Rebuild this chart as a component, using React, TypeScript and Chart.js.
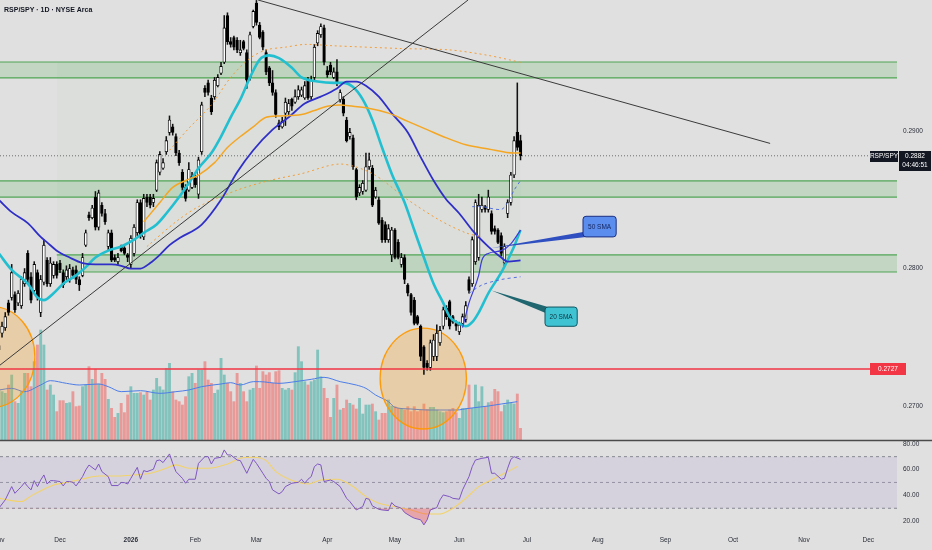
import React, { useEffect, useRef } from "react";
import { Chart, registerables } from "chart.js";

Chart.register(...registerables);

// ---------------- data ----------------
const symbolTitle = "RSP/SPY · 1D · NYSE Arca";
const symbolShort = "RSP/SPY";
const countdown = "04:46:51";
const monthLabels = ["Nov", "Dec", "2026", "Feb", "Mar", "Apr", "May", "Jun", "Jul", "Aug", "Sep", "Oct", "Nov", "Dec"];
const monthStartIdx = [0, 19, 41, 61, 80, 102, 123, 143, 164, 186, 207, 228, 250, 270];
const priceTicks = [0.27, 0.28, 0.29];
const rsiTicks = [20, 40, 60, 80];
const viewFrom = 0.37;
const viewTo = 278.9;
const priceMin = 0.26753;
const priceMax = 0.29953;
const rsiMin = 14.7;
const rsiMax = 82.9;
const volMin = -264;
const volMax = 1320;

const openP = [
  0.2741, 0.2753, 0.2757, 0.2775, 0.2779, 0.2781, 0.2775, 0.2773, 0.2789, 0.2811,
  0.2794, 0.2784, 0.2797, 0.2768, 0.2790, 0.2806, 0.2789, 0.2795, 0.2803, 0.2804,
  0.2797, 0.2794, 0.2792, 0.2799, 0.2799, 0.2792, 0.2795, 0.2817, 0.2839, 0.2837,
  0.2852, 0.2830, 0.2846, 0.2840, 0.2816, 0.2826, 0.2808, 0.2805, 0.2816, 0.2815,
  0.2810, 0.2803, 0.2811, 0.2826, 0.2848, 0.2823, 0.2852, 0.2852, 0.2848, 0.2857,
  0.2870, 0.2873, 0.2885, 0.2899, 0.2903, 0.2896, 0.2884, 0.2870, 0.2859, 0.2857,
  0.2859, 0.2866, 0.2854, 0.2885, 0.2931, 0.2935, 0.2924, 0.2925, 0.2933, 0.2942,
  0.2950, 0.2984, 0.2965, 0.2968, 0.2966, 0.2957, 0.2965, 0.2957, 0.2939, 0.2976,
  0.2993, 0.2977, 0.2972, 0.2957, 0.2946, 0.2935, 0.2928, 0.2906, 0.2903, 0.2913,
  0.2914, 0.2923, 0.2921, 0.2925, 0.2926,
  0.2924, 0.2937, 0.2925, 0.2939, 0.2964, 0.2970,
  0.2975, 0.2944, 0.2948, 0.2939, 0.2943, 0.2923, 0.2923, 0.2908, 0.2896, 0.2895,
  0.2872, 0.2855, 0.2856, 0.2857, 0.2874, 0.2873, 0.2852, 0.2850, 0.2835, 0.2832,
  0.2821, 0.2810, 0.2828, 0.2819, 0.2803, 0.2808, 0.2788, 0.2781, 0.2777, 0.2765,
  0.2758, 0.2743, 0.2731, 0.2728, 0.2736, 0.2736, 0.2746, 0.2758, 0.2771, 0.2776,
  0.2765, 0.2760, 0.2754, 0.2760, 0.2763, 0.2792, 0.2789, 0.2805, 0.2808, 0.2843,
  0.2845, 0.2843, 0.2840, 0.2829, 0.2828, 0.2824, 0.2804, 0.2840, 0.2848, 0.2868,
  0.2899, 0.2893,
];
const highP = [
  0.2748, 0.2761, 0.2768, 0.2777, 0.2803, 0.2783, 0.2784, 0.2794, 0.2800, 0.2813,
  0.2797, 0.2805, 0.2799, 0.2795, 0.2821, 0.2808, 0.2808, 0.2805, 0.2805, 0.2806,
  0.2799, 0.2802, 0.2803, 0.2801, 0.2802, 0.2794, 0.2811, 0.2828, 0.2841, 0.2846,
  0.2856, 0.2857, 0.2848, 0.2843, 0.2828, 0.2828, 0.2810, 0.2811, 0.2817, 0.2816,
  0.2811, 0.2824, 0.2832, 0.2850, 0.2850, 0.2854, 0.2854, 0.2854, 0.2854, 0.2879,
  0.2885, 0.2880, 0.2896, 0.2911, 0.2905, 0.2898, 0.2886, 0.2872, 0.2861, 0.2877,
  0.2870, 0.2868, 0.2881, 0.2921, 0.2933, 0.2937, 0.2926, 0.2939, 0.2941, 0.2950,
  0.2984, 0.2986, 0.2968, 0.2969, 0.2968, 0.2966, 0.2966, 0.2959, 0.2972, 0.2988,
  0.2995, 0.2979, 0.2973, 0.2959, 0.2947, 0.2944, 0.2930, 0.2908, 0.2910, 0.2924,
  0.2923, 0.2924, 0.2930, 0.2933, 0.2932,
  0.2936, 0.2939, 0.2940, 0.2963, 0.2973, 0.2978,
  0.2977, 0.2947, 0.2950, 0.2946, 0.2952, 0.2930, 0.2925, 0.2910, 0.2902, 0.2897,
  0.2873, 0.2861, 0.2864, 0.2884, 0.2884, 0.2875, 0.2859, 0.2852, 0.2837, 0.2834,
  0.2832, 0.2830, 0.2829, 0.2821, 0.2811, 0.2810, 0.2789, 0.2782, 0.2779, 0.2766,
  0.2759, 0.2744, 0.2733, 0.2748, 0.2752, 0.2759, 0.2758, 0.2772, 0.2773, 0.2777,
  0.2766, 0.2762, 0.2761, 0.2767, 0.2776, 0.2794, 0.2823, 0.2850, 0.2854, 0.2852,
  0.2846, 0.2857, 0.2842, 0.2831, 0.2829, 0.2826, 0.2818, 0.2850, 0.2870, 0.2896,
  0.2935, 0.2897,
];
const lowP = [
  0.2736, 0.2750, 0.2755, 0.2766, 0.2777, 0.2768, 0.2773, 0.2771, 0.2787, 0.2789,
  0.2775, 0.2782, 0.2777, 0.2765, 0.2788, 0.2787, 0.2787, 0.2793, 0.2793, 0.2797,
  0.2786, 0.2792, 0.2790, 0.2793, 0.2789, 0.2784, 0.2794, 0.2816, 0.2835, 0.2836,
  0.2828, 0.2828, 0.2838, 0.2832, 0.2813, 0.2805, 0.2805, 0.2803, 0.2812, 0.2810,
  0.2805, 0.2800, 0.2809, 0.2824, 0.2822, 0.2821, 0.2845, 0.2844, 0.2845, 0.2856,
  0.2868, 0.2872, 0.2883, 0.2897, 0.2897, 0.2882, 0.2875, 0.2857, 0.2849, 0.2856,
  0.2858, 0.2859, 0.2851, 0.2883, 0.2925, 0.2926, 0.2912, 0.2923, 0.2932, 0.2941,
  0.2949, 0.2963, 0.2961, 0.2959, 0.2957, 0.2955, 0.2959, 0.2931, 0.2937, 0.2975,
  0.2977, 0.2967, 0.2959, 0.2941, 0.2933, 0.2926, 0.2910, 0.2901, 0.2902, 0.2904,
  0.2912, 0.2915, 0.2920, 0.2923, 0.2925,
  0.2923, 0.2923, 0.2923, 0.2937, 0.2962, 0.2968,
  0.2948, 0.2939, 0.2941, 0.2938, 0.2933, 0.2921, 0.2911, 0.2892, 0.2894, 0.2872,
  0.2850, 0.2853, 0.2854, 0.2856, 0.2872, 0.2845, 0.2851, 0.2832, 0.2819, 0.2819,
  0.2819, 0.2805, 0.2807, 0.2807, 0.2801, 0.2789, 0.2780, 0.2766, 0.2759, 0.2759,
  0.2733, 0.2723, 0.2726, 0.2726, 0.2733, 0.2733, 0.2744, 0.2756, 0.2763, 0.2756,
  0.2760, 0.2755, 0.2752, 0.2759, 0.2761, 0.2782, 0.2787, 0.2803, 0.2806, 0.2841,
  0.2841, 0.2841, 0.2825, 0.2825, 0.2818, 0.2809, 0.2802, 0.2837, 0.2846, 0.2866,
  0.2886, 0.2879,
];
const closeP = [
  0.2744, 0.2758, 0.2765, 0.2768, 0.2797, 0.2770, 0.2782, 0.2792, 0.2797, 0.2792,
  0.2777, 0.2803, 0.2779, 0.2792, 0.2817, 0.2789, 0.2804, 0.2803, 0.2795, 0.2799,
  0.2788, 0.2799, 0.2800, 0.2795, 0.2792, 0.2788, 0.2808, 0.2826, 0.2837, 0.2844,
  0.2830, 0.2855, 0.2840, 0.2834, 0.2826, 0.2806, 0.2806, 0.2808, 0.2813, 0.2811,
  0.2808, 0.2822, 0.2830, 0.2848, 0.2824, 0.2851, 0.2848, 0.2846, 0.2851, 0.2877,
  0.2883, 0.2877, 0.2893, 0.2908, 0.2899, 0.2884, 0.2877, 0.2859, 0.2851, 0.2872,
  0.2867, 0.2861, 0.2879, 0.2919, 0.2928, 0.2928, 0.2914, 0.2937, 0.2939, 0.2947,
  0.2975, 0.2965, 0.2963, 0.2961, 0.2959, 0.2959, 0.2960, 0.2937, 0.2970, 0.2987,
  0.2979, 0.2968, 0.2961, 0.2943, 0.2935, 0.2928, 0.2912, 0.2903, 0.2907, 0.2921,
  0.2920, 0.2918, 0.2925, 0.2930, 0.2930,
  0.2933, 0.2924, 0.2937, 0.2961, 0.2971, 0.2976,
  0.2950, 0.2941, 0.2943, 0.2943, 0.2935, 0.2928, 0.2913, 0.2893, 0.2899, 0.2874,
  0.2852, 0.2859, 0.2862, 0.2874, 0.2879, 0.2846, 0.2857, 0.2833, 0.2821, 0.2821,
  0.2829, 0.2828, 0.2808, 0.2808, 0.2808, 0.2792, 0.2782, 0.2768, 0.2760, 0.2760,
  0.2736, 0.2728, 0.2728, 0.2746, 0.2748, 0.2753, 0.2755, 0.2770, 0.2765, 0.2758,
  0.2761, 0.2758, 0.2759, 0.2765, 0.2773, 0.2784, 0.2821, 0.2848, 0.2846, 0.2846,
  0.2843, 0.2852, 0.2827, 0.2827, 0.2819, 0.2811, 0.2816, 0.2848, 0.2868, 0.2893,
  0.2888, 0.2882,
];
const volume = [
  150, 145, 140, 165, 195, 115, 110, 145, 200, 200,
  160, 235, 285, 330, 285, 150, 165, 135, 85, 118,
  118, 110, 112, 145, 100, 102, 160, 165, 220, 182,
  212, 168, 200, 182, 122, 95, 68, 80, 110, 82,
  135, 160, 140, 140, 142, 135, 145, 120, 150, 185,
  160, 150, 215, 230, 145, 120, 115, 105, 130, 190,
  200, 170, 210, 210, 235, 180, 170, 140, 150, 245,
  195, 170, 145, 115, 200, 170, 145, 115, 150, 155,
  222,
  155, 205, 195, 202, 170, 205, 208, 155, 150, 155,
  150, 202, 280, 235, 175, 165, 175, 180, 270, 190,
  155, 125, 68, 125, 165, 90, 95, 120, 110, 105,
  93, 125, 78, 105, 105, 108, 85, 60, 80, 80,
  120, 102, 100, 95, 95, 90, 100, 85, 100, 85,
  90, 108, 92, 98, 98, 90, 85, 82, 85, 90,
  95, 82, 65, 95, 95, 165, 95, 165, 115, 160,
  100, 112, 115, 152, 145, 85, 105, 120, 110, 108,
  138, 35,
];
const volumeMA = [
  [0, 150], [4, 155], [8, 145], [13, 165], [16, 178], [21, 170], [25, 165], [31, 168], [34, 160], [38, 145],
  [44, 148], [50, 140], [55, 145], [59, 150], [63, 160], [69, 168], [72, 172], [75, 165], [79, 175], [81, 175],
  [87, 170], [92, 175], [97, 182], [101, 188], [106, 175], [111, 165], [114, 155], [117, 135], [121, 115], [123, 98],
  [128, 93], [133, 90], [142, 90], [146, 95], [152, 102], [156, 108], [161, 115],
];
const sma20 = [
  [0, 0.2811], [4, 0.2799], [9, 0.2789], [12, 0.2779], [14, 0.2777], [17, 0.2782], [20, 0.2789], [24, 0.2795],
  [27, 0.2801], [30, 0.2808], [34, 0.2813], [38, 0.2816], [42, 0.2821], [45, 0.2826], [49, 0.2832], [52, 0.2840],
  [56, 0.2852], [59, 0.2862], [62, 0.2873], [66, 0.2884], [69, 0.2896], [72, 0.2910], [75, 0.2923], [78, 0.2939],
  [81, 0.2952], [84, 0.2955], [87, 0.2953], [91, 0.2946], [94, 0.2939], [99, 0.2936], [104, 0.2935], [107, 0.2935],
  [110, 0.2932], [113, 0.2923], [116, 0.2908], [119, 0.2888], [122, 0.2869], [126, 0.2848], [129, 0.2828],
  [132, 0.2808], [135, 0.2789], [138, 0.2775], [140, 0.2765], [143, 0.2760], [145, 0.2758], [147, 0.2761],
  [149, 0.2768], [152, 0.2782], [156, 0.2797], [158, 0.2806], [160, 0.2816], [162, 0.2828],
];
const sma50 = [
  [0, 0.2850], [4, 0.2841], [9, 0.2833], [13, 0.2823], [15, 0.2819], [18, 0.2813], [22, 0.2808], [26, 0.2804],
  [30, 0.2803], [35, 0.2803], [38, 0.2802], [41, 0.2800], [44, 0.2800], [47, 0.2804], [50, 0.2810], [53, 0.2817],
  [56, 0.2822], [63, 0.2832], [69, 0.2850], [74, 0.2870], [79, 0.2886], [85, 0.2901], [90, 0.2910], [95, 0.2920],
  [100, 0.2925], [105, 0.2931], [108, 0.2936], [111, 0.2936], [114, 0.2933], [118, 0.2925], [122, 0.2913],
  [127, 0.2899], [131, 0.2881], [135, 0.2864], [139, 0.2850], [141, 0.2845], [143, 0.2840], [147, 0.2828],
  [152, 0.2816], [156, 0.2808], [158, 0.2805], [162, 0.2806],
];
const smaLong = [
  [45, 0.2834], [50, 0.2848], [54, 0.2859], [58, 0.2864], [62, 0.2868], [67, 0.2877], [71, 0.2888], [75, 0.2896],
  [79, 0.2903], [83, 0.2910], [87, 0.2911], [94, 0.2912], [98, 0.2915], [102, 0.2918], [106, 0.2919], [110, 0.2918],
  [114, 0.2917], [121, 0.2913], [127, 0.2907], [133, 0.2901], [139, 0.2895], [145, 0.2890], [152, 0.2887],
  [160, 0.2884], [162, 0.2884],
];
const bandUpper = [
  [53, 0.2886], [59, 0.2902], [66, 0.2919], [72, 0.2939], [78, 0.2953], [83, 0.2959], [89, 0.2961], [95, 0.2963],
  [104, 0.2962], [125, 0.2960], [140, 0.2959], [152, 0.2955], [162, 0.2950],
];
const bandLower = [
  [46, 0.2816], [55, 0.2834], [62, 0.2845], [74, 0.2857], [84, 0.2864], [94, 0.2869], [106, 0.2876], [116, 0.2869],
  [127, 0.2850], [137, 0.2835], [145, 0.2826], [150, 0.2823],
];
const blueUpper = [[147, 0.2845], [150, 0.2845], [156, 0.2843], [158, 0.2848], [160, 0.2857], [162, 0.2864]];
const blueLower = [[146, 0.2782], [150, 0.2788], [156, 0.2792], [162, 0.2794]];
const blueFast = [[144, 0.2757], [146, 0.2775], [149, 0.2795], [150, 0.2806], [152, 0.2811], [156, 0.2813], [159, 0.2818], [162, 0.2828]];
const trendDown = [[80.5, 0.29953], [239.5, 0.2891]];
const trendUp = [[0, 0.27291], [145.7, 0.29953]];
const supportLevel = 0.2727;
const zoneTop = [0.29502, 0.28637, 0.28099];
const zoneBottom = [0.29386, 0.2852, 0.27975];
const zoneFrom = [viewFrom, viewFrom, 18];
const rangeBox = [18, 162, 0.29502, 0.27975];
const circleIdx = [-2.2, 131.8];
const circlePrice = [0.27357, 0.272];
const circleRadiusBars = 13.4;
const circleRadiusPrice = 0.00367;
const calloutText = ["50 SMA", "20 SMA"];
const calloutTip = [[153, 0.2815], [153, 0.2784]];
const calloutBox = [[181.4, 191.7, 0.2838, 0.2823], [169.6, 179.6, 0.2772, 0.2758]];
const calloutBase = [[0.2827, 0.2823], [0.2772, 0.2767]];
const rsi = [
  [0, 30], [2, 36.5], [4, 46.8], [5, 41.6], [6, 44.2], [7, 46.8], [8, 49.9], [9, 46.8], [10, 44.2], [11, 51.4],
  [12, 46.8], [13, 51.9], [14, 55.8], [15, 48.8], [16, 51.4], [17, 51.4], [19, 50.7], [20, 47.3], [21, 50.7],
  [22, 50.7], [23, 50.1], [24, 47.3], [26, 54.5], [27, 59.7], [28, 63.5], [30, 59.7], [31, 64.3], [32, 58.4],
  [34, 54.5], [35, 47.6], [37, 47.6], [38, 49.9], [39, 49.9], [40, 48.8], [41, 53.2], [43, 61.7], [44, 52.5],
  [45, 59.2], [46, 58.4], [48, 60.2], [49, 66.9], [50, 67.4], [51, 65.4], [53, 72.1], [54, 64.8], [55, 58.4],
  [57, 53.2], [58, 49.4], [59, 52.5], [61, 52.5], [62, 64.8], [64, 70], [65, 70], [66, 64.3], [67, 68.7],
  [69, 69.5], [70, 75.2], [71, 71.3], [72, 71.3], [74, 67.4], [75, 66.9], [77, 57.1], [79, 67.9], [80, 64.8],
  [82, 57.1], [83, 53.2], [84, 50.7], [85, 44.2], [87, 41.1], [88, 42.9], [89, 46.8], [91, 49.4], [93, 50.1],
  [94, 52.5], [95, 49.4], [96, 52.5], [97, 54.5], [98, 62.3], [99, 64.3], [100, 63.6], [101, 50.7], [103, 51.9],
  [104, 50.7], [106, 46.8], [108, 37.7], [109, 35.2], [111, 28.7], [113, 31.3], [114, 37.7], [115, 37],
  [116, 31.8], [118, 29.2], [119, 28.7], [121, 28.2], [122, 34.4], [123, 31.8], [125, 30], [126, 26.7],
  [128, 23.6], [129, 22.3], [131, 21], [132, 17.1], [133, 21], [134, 28.7], [136, 30.5], [137, 36.5],
  [138, 40.3], [140, 39], [141, 37.7], [143, 37], [144, 44.2], [146, 54.5], [147, 62.3], [148, 67.4],
  [150, 68.7], [152, 69.5], [153, 57.1], [154, 57.1], [156, 52.5], [157, 53.2], [158, 61], [159, 67.9],
  [160, 70], [162, 67.9],
];
const rsiMA = [
  [0, 37.8], [4, 35.9], [7, 35.2], [10, 39.6], [14, 44.7], [17, 48.1], [21, 49.9], [26, 52.7], [31, 55], [37, 55],
  [42, 55.8], [47, 57.1], [52, 61], [55, 63.6], [59, 61], [65, 61], [71, 64.3], [75, 68.7], [79, 69.5], [83, 66.9],
  [86, 58.4], [92, 50.7], [96, 48.8], [100, 51.9], [105, 52.5], [110, 46.8], [114, 39], [118, 33.9], [123, 31.3],
  [128, 28.7], [133, 25.6], [137, 25.6], [141, 30], [145, 37.7], [149, 46.8], [154, 53.2], [158, 58.4], [161, 62.3],
];
const rsiUpper = 70;
const rsiMiddle = 50;
const rsiLower = 30;

// ---------------- styles ----------------
const BG = "#e0e0e0";
const FONT = "Liberation Sans";
const TEXT = "#2a2e39";
const ZONE_LINE = "rgba(67,160,71,0.9)";
const ZONE_FILL = "rgba(76,175,80,0.2)";

const pts = (a: number[][]) => a.map(([x, y]) => ({ x, y }));
const flat = (v: number, from: number, to: number) => [{ x: from, y: v }, { x: to, y: v }];

function roundRectPath(ctx: CanvasRenderingContext2D, x: number, y: number, w: number, h: number, r: number) {
  ctx.beginPath();
  ctx.moveTo(x + r, y);
  ctx.lineTo(x + w - r, y);
  ctx.quadraticCurveTo(x + w, y, x + w, y + r);
  ctx.lineTo(x + w, y + h - r);
  ctx.quadraticCurveTo(x + w, y + h, x + w - r, y + h);
  ctx.lineTo(x + r, y + h);
  ctx.quadraticCurveTo(x, y + h, x, y + h - r);
  ctx.lineTo(x, y + r);
  ctx.quadraticCurveTo(x, y, x + r, y);
  ctx.closePath();
}

const bgPlugin = {
  id: "bgFill",
  beforeDraw(chart: any) {
    const c = chart.ctx;
    c.save();
    c.fillStyle = BG;
    c.fillRect(0, 0, chart.width, chart.height);
    c.restore();
  },
};

const ellipsePlugin = {
  id: "ellipses",
  beforeDatasetDraw(chart: any, args: any) {
    const ds = chart.data.datasets[args.index];
    if (!ds || ds.label !== "wicks") return;
    const xs = chart.scales.x;
    const ys = chart.scales.y;
    const c = chart.ctx;
    const a = chart.chartArea;
    c.save();
    c.beginPath();
    c.rect(a.left, ys.top, a.right - a.left, ys.bottom - ys.top);
    c.clip();
    for (let k = 0; k < circleIdx.length; k++) {
      const cx = xs.getPixelForValue(circleIdx[k]);
      const cy = ys.getPixelForValue(circlePrice[k]);
      const rx = Math.abs(xs.getPixelForValue(circleIdx[k] + circleRadiusBars) - cx);
      const ry = Math.abs(ys.getPixelForValue(circlePrice[k] + circleRadiusPrice) - cy);
      c.beginPath();
      c.ellipse(cx, cy, rx, ry, 0, 0, Math.PI * 2);
      c.fillStyle = "rgba(255,152,0,0.25)";
      c.fill();
      c.lineWidth = 1.3;
      c.strokeStyle = "rgba(255,152,0,0.95)";
      c.stroke();
    }
    c.restore();
  },
};

const overlayPlugin = {
  id: "overlay",
  afterDraw(chart: any) {
    const c = chart.ctx;
    const xs = chart.scales.x;
    const ys = chart.scales.y;
    c.save();
    // pane separator
    c.strokeStyle = "#4a4a4a";
    c.lineWidth = 1.5;
    c.beginPath();
    c.moveTo(0, ys.bottom + 0.5);
    c.lineTo(chart.width, ys.bottom + 0.5);
    c.stroke();

    // title
    c.fillStyle = "#131722";
    c.font = `600 7px "${FONT}"`;
    c.textBaseline = "middle";
    c.textAlign = "left";
    c.fillText(symbolTitle, 4, 10);

    // callouts
    const fills = ["#5b8dee", "#3fc3d3"];
    const borders = ["#1c2f80", "#0f5560"];
    const wedges = ["#2f4fc0", "#1f6670"];
    const texts = ["#14245c", "#0c3440"];
    for (let k = 0; k < calloutText.length; k++) {
      const tx = xs.getPixelForValue(calloutTip[k][0]);
      const ty = ys.getPixelForValue(calloutTip[k][1]);
      const bx1 = xs.getPixelForValue(calloutBox[k][0]);
      const bx2 = xs.getPixelForValue(calloutBox[k][1]);
      const by1 = ys.getPixelForValue(calloutBox[k][2]);
      const by2 = ys.getPixelForValue(calloutBox[k][3]);
      const b1 = ys.getPixelForValue(calloutBase[k][0]);
      const b2 = ys.getPixelForValue(calloutBase[k][1]);
      c.fillStyle = wedges[k];
      c.beginPath();
      c.moveTo(tx, ty);
      c.lineTo(bx1 + 3, b1);
      c.lineTo(bx1 + 3, b2);
      c.closePath();
      c.fill();
      roundRectPath(c, bx1, by1, bx2 - bx1, by2 - by1, 3);
      c.fillStyle = fills[k];
      c.fill();
      c.lineWidth = 1;
      c.strokeStyle = borders[k];
      c.stroke();
      c.fillStyle = texts[k];
      c.font = `6.5px "${FONT}"`;
      c.textAlign = "center";
      c.textBaseline = "middle";
      c.fillText(calloutText[k], (bx1 + bx2) / 2, (by1 + by2) / 2 + 0.5);
    }

    // last price labels
    const last = closeP[closeP.length - 1];
    const ly = Math.round(ys.getPixelForValue(last));
    c.fillStyle = "#131722";
    c.fillRect(870, ly - 5, 28, 11);
    c.fillRect(899, ly - 5, 32, 20);
    c.fillStyle = "#ffffff";
    c.font = `6.5px "${FONT}"`;
    c.textAlign = "center";
    c.textBaseline = "middle";
    c.fillText(symbolShort, 884, ly + 0.5);
    c.fillText(last.toFixed(4), 915, ly + 0.5);
    c.fillText(countdown, 915, ly + 9.5);

    // support level label
    const sy = Math.round(ys.getPixelForValue(supportLevel));
    c.fillStyle = "#f23645";
    c.fillRect(870, sy - 6, 36, 12);
    c.fillStyle = "#ffffff";
    c.fillText(supportLevel.toFixed(4), 888, sy + 0.5);
    c.restore();
  },
};

function buildConfig(): any {
  const idx = openP.map((_, i) => i);
  const up = idx.map((i) => closeP[i] >= openP[i]);
  const last = closeP[closeP.length - 1];
  const line = (data: any[], color: string, width: number, order: number, extra: any = {}) => ({
    type: "line",
    data,
    borderColor: color,
    borderWidth: width,
    pointRadius: 0,
    fill: false,
    order,
    ...extra,
  });

  const datasets: any[] = [
    line(pts(trendDown), "#3a3a3a", 1, 0, { label: "trendDown" }),
    line(pts(trendUp), "#3a3a3a", 1, 0, { label: "trendUp" }),
    line(flat(supportLevel, viewFrom, viewTo), "#f23645", 1.5, 0, { label: "support" }),
    line(flat(last, viewFrom, viewTo), "rgba(80,80,80,0.8)", 1, 1, { label: "lastPrice", borderDash: [1, 2] }),
    line(pts(bandUpper), "rgba(245,150,40,0.9)", 1, 1, { label: "bandUpper", borderDash: [2, 3], tension: 0.3 }),
    line(pts(bandLower), "rgba(245,150,40,0.9)", 1, 1, { label: "bandLower", borderDash: [2, 3], tension: 0.3 }),
    line(pts(blueUpper), "rgba(70,100,220,0.9)", 1, 1, { label: "blueUpper", borderDash: [3, 3], tension: 0.3 }),
    line(pts(blueLower), "rgba(70,100,220,0.9)", 1, 1, { label: "blueLower", borderDash: [3, 3], tension: 0.3 }),
    line(pts(blueFast), "#3b3bd6", 1.2, 1, { label: "blueFast", cubicInterpolationMode: "monotone" }),
    line(pts(smaLong), "#f5a623", 1.5, 1, { label: "smaLong", cubicInterpolationMode: "monotone" }),
    line(pts(sma50), "#2f2fc8", 1.8, 1, { label: "sma50", cubicInterpolationMode: "monotone" }),
    line(pts(sma20), "#22bfd0", 2.6, 1, { label: "sma20", cubicInterpolationMode: "monotone" }),
    {
      type: "bar",
      label: "bodies",
      data: idx.map((i) => ({ x: i, y: [openP[i], closeP[i]] })),
      backgroundColor: up.map((u) => (u ? "#ffffff" : "#000000")),
      borderColor: "#000000",
      borderWidth: 0.8,
      borderSkipped: false,
      barThickness: 2.7,
      grouped: false,
      order: 2,
    },
    {
      type: "bar",
      label: "wicks",
      data: idx.map((i) => ({ x: i, y: [lowP[i], highP[i]] })),
      backgroundColor: "#111111",
      borderWidth: 0,
      barThickness: 0.9,
      grouped: false,
      order: 3,
    },
    line(pts(volumeMA), "#4d7de8", 1, 4, { label: "volumeMA", yAxisID: "vol", cubicInterpolationMode: "monotone" }),
    {
      type: "bar",
      label: "volume",
      yAxisID: "vol",
      data: idx.map((i) => ({ x: i, y: volume[i] })),
      backgroundColor: up.map((u) => (u ? "rgba(38,166,154,0.5)" : "rgba(239,83,80,0.5)")),
      borderWidth: 0,
      barThickness: 2.2,
      grouped: false,
      order: 5,
    },
  ];
  for (let z = 0; z < zoneTop.length; z++) {
    datasets.push(line(flat(zoneTop[z], zoneFrom[z], viewTo), ZONE_LINE, 1.2, 6, { label: "zoneTop" + z }));
    datasets.push(
      line(flat(zoneBottom[z], zoneFrom[z], viewTo), ZONE_LINE, 1.2, 6, {
        label: "zoneBottom" + z,
        fill: "-1",
        backgroundColor: ZONE_FILL,
      })
    );
  }
  datasets.push(line(flat(rangeBox[2], rangeBox[0], rangeBox[1]), "rgba(0,0,0,0)", 0, 7, { label: "rangeTop" }));
  datasets.push(
    line(flat(rangeBox[3], rangeBox[0], rangeBox[1]), "rgba(0,0,0,0)", 0, 7, {
      label: "rangeBottom",
      fill: "-1",
      backgroundColor: "rgba(76,175,80,0.035)",
    })
  );
  // RSI pane
  datasets.push(line(flat(rsiUpper, viewFrom, viewTo), "rgba(120,123,134,0.85)", 1, 9, { label: "rsi70", yAxisID: "rsi", borderDash: [3, 3] }));
  datasets.push(
    line(flat(rsiLower, viewFrom, viewTo), "rgba(120,123,134,0.85)", 1, 9, {
      label: "rsi30",
      yAxisID: "rsi",
      borderDash: [3, 3],
      fill: "-1",
      backgroundColor: "rgba(126,87,194,0.1)",
    })
  );
  datasets.push(line(flat(rsiMiddle, viewFrom, viewTo), "rgba(120,123,134,0.7)", 1, 9, { label: "rsi50", yAxisID: "rsi", borderDash: [3, 3] }));
  datasets.push(line(pts(rsiMA), "#f2d36b", 1.1, 8, { label: "rsiMA", yAxisID: "rsi", cubicInterpolationMode: "monotone" }));
  datasets.push(
    line(pts(rsi), "#7e57c2", 1, 7, {
      label: "rsi",
      yAxisID: "rsi",
      fill: { target: { value: rsiLower }, above: "rgba(0,0,0,0)", below: "rgba(242,54,69,0.35)" },
    })
  );

  const tickFont = { family: FONT, size: 6.5 };
  return {
    type: "bar",
    data: { datasets },
    options: {
      responsive: false,
      animation: false,
      events: [],
      layout: { padding: 0 },
      plugins: { legend: { display: false }, tooltip: { enabled: false } },
      elements: { point: { radius: 0 } },
      scales: {
        x: {
          type: "linear",
          min: viewFrom,
          max: viewTo,
          offset: false,
          grid: { display: false, drawTicks: false },
          border: { display: false },
          ticks: {
            autoSkip: false,
            maxRotation: 0,
            padding: 8,
            color: TEXT,
            font: (ctx: any) => ({ family: FONT, size: 6.5, weight: monthLabels[ctx.index] === "2026" ? "bold" : "normal" }),
            callback: (_v: any, i: number) => monthLabels[i],
          },
          afterBuildTicks: (s: any) => {
            s.ticks = monthStartIdx.map((v) => ({ value: v }));
          },
          afterFit: (s: any) => {
            s.height = 22;
            s.paddingLeft = 0;
            s.paddingRight = 0;
          },
        },
        y: {
          type: "linear",
          position: "right",
          stack: "panes",
          stackWeight: 440,
          min: priceMin,
          max: priceMax,
          grid: { display: false, drawTicks: false },
          border: { display: false },
          ticks: { padding: 6, color: TEXT, font: tickFont, callback: (v: any) => Number(v).toFixed(4) },
          afterBuildTicks: (s: any) => {
            s.ticks = priceTicks.map((v) => ({ value: v }));
          },
          afterFit: (s: any) => {
            s.width = 35;
            s.paddingTop = 0;
            s.paddingBottom = 0;
          },
        },
        rsi: {
          type: "linear",
          position: "right",
          stack: "panes",
          stackWeight: 88,
          min: rsiMin,
          max: rsiMax,
          grid: { display: false, drawTicks: false },
          border: { display: false },
          ticks: { padding: 6, color: TEXT, font: tickFont, callback: (v: any) => Number(v).toFixed(2) },
          afterBuildTicks: (s: any) => {
            s.ticks = rsiTicks.map((v) => ({ value: v }));
          },
          afterFit: (s: any) => {
            s.width = 35;
            s.paddingTop = 0;
            s.paddingBottom = 0;
          },
        },
        vol: {
          type: "linear",
          position: "left",
          display: false,
          min: volMin,
          max: volMax,
        },
      },
    },
    plugins: [bgPlugin, ellipsePlugin, overlayPlugin],
  };
}

export default function App() {
  const ref = useRef<HTMLCanvasElement | null>(null);
  useEffect(() => {
    document.body.style.margin = "0";
    document.body.style.background = BG;
    const canvas = ref.current;
    if (!canvas) return;
    const chart = new Chart(canvas, buildConfig());
    return () => chart.destroy();
  }, []);
  return <canvas ref={ref} width={932} height={550} style={{ display: "block" }} />;
}
